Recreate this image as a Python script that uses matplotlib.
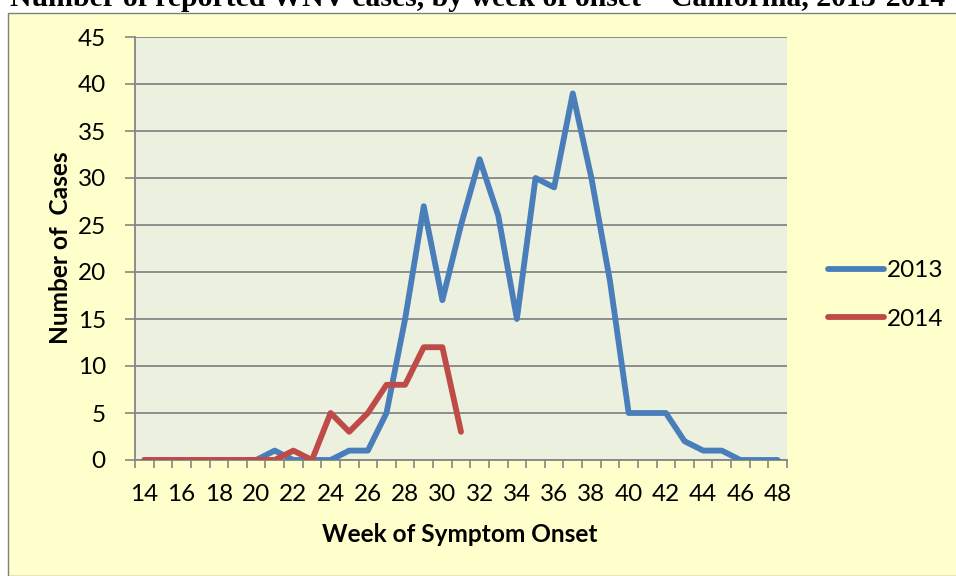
import numpy as np
import matplotlib.pyplot as plt
from matplotlib.patches import Rectangle

# weeks of symptom onset
weeks_2013 = list(range(14, 49))
cases_2013 = [0, 0, 0, 0, 0, 0, 0, 1, 0, 0, 0, 1, 1, 5, 15, 27, 17, 25, 32, 26,
              15, 30, 29, 39, 30, 19, 5, 5, 5, 2, 1, 1, 0, 0, 0]
weeks_2014 = list(range(14, 32))
cases_2014 = [0, 0, 0, 0, 0, 0, 0, 0, 1, 0, 5, 3, 5, 8, 8, 12, 12, 3]

title = "Number of reported WNV cases, by week of onset \u2013 California, 2013-2014"

plt.rcParams['font.family'] = ['Lato', 'DejaVu Sans']

W, H = 956, 576
fig = plt.figure(figsize=(W / 100, H / 100), dpi=100, facecolor='white')

# yellow chart area with thin grey border
fig.patches.append(Rectangle((8 / W, 0), 1, 1 - 13 / H, transform=fig.transFigure,
                             facecolor='#FFFFCC', edgecolor='#7F7F7F', lw=1, zorder=-5))

# title, cut off at the top of the picture like in the source
fig.text(478 / W, 1 - 6 / H, title, ha='center', va='baseline', fontsize=21.4,
         fontweight='bold', family=['Liberation Serif', 'DejaVu Serif'])

ax = fig.add_axes([135 / W, 1 - 460 / H, (787 - 135) / W, (460 - 37) / H])
ax.set_zorder(2)
ax.set_facecolor('#EBF1DE')

ax.plot(weeks_2013, cases_2013, color='#4A7EBB', lw=4.2, label='2013',
        solid_joinstyle='round', solid_capstyle='round', zorder=3)
ax.plot(weeks_2014, cases_2014, color='#BE4B48', lw=4.2, label='2014',
        solid_joinstyle='round', solid_capstyle='round', zorder=4)

ax.set_xlim(13.5, 48.5)
ax.set_ylim(0, 45)
ax.set_yticks(range(0, 46, 5))
ax.set_xticks(range(14, 49, 2))
ax.set_xticks(np.arange(13.5, 49, 1), minor=True)
ax.tick_params(axis='x', which='major', length=0, pad=17, labelsize=17.5)
ax.tick_params(axis='x', which='minor', length=6, width=1.2, color='#868686', direction='out')
ax.tick_params(axis='y', length=7, width=1.2, color='#868686', direction='out', pad=14, labelsize=17.5)

ax.grid(axis='y', color='#868686', lw=1.3)
ax.set_axisbelow(True)
for s in ['top', 'right']:
    ax.spines[s].set_visible(False)
for s in ['left', 'bottom']:
    ax.spines[s].set_color('#868686')
    ax.spines[s].set_linewidth(1.3)

fig.text(460 / W, 1 - 535 / H, 'Week of Symptom Onset', ha='center', va='center',
         fontsize=17.6, fontweight='bold')
fig.text(60 / W, 1 - 248 / H, 'Number of  Cases', ha='center', va='center',
         rotation=90, fontsize=17.6, fontweight='bold')

fig.legend(loc='center left', bbox_to_anchor=(828 / W, 1 - 295 / H), frameon=False,
           fontsize=17.5, handlelength=2.3, handletextpad=0.12, labelspacing=1.15,
           borderpad=0, borderaxespad=0)

fig.savefig('out.png', dpi=100, facecolor='white')
